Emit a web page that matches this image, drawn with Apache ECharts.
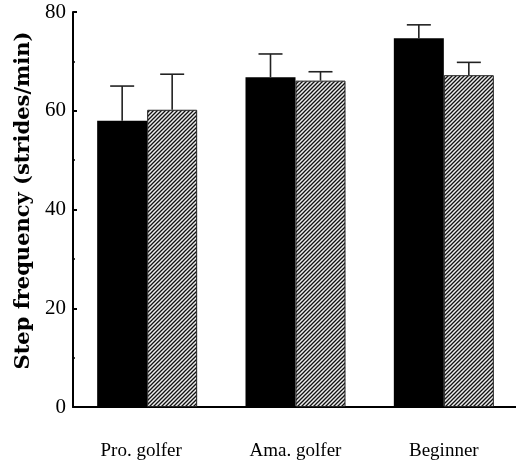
<!DOCTYPE html>
<html>
<head>
<meta charset="utf-8">
<script src="https://cdn.jsdelivr.net/npm/echarts@6/dist/echarts.min.js"></script>
<style>html,body{margin:0;padding:0;background:#fff;}#c{width:516px;height:464px;}</style>
</head>
<body>
<div id="c"></div>
<script>
const categories = ['Pro. golfer', 'Ama. golfer', 'Beginner'];
const solidValues = [58.0, 66.8, 74.7];
const solidErrTop = [65.0, 71.5, 77.4];
const hatchValues = [60.2, 66.1, 67.2];
const hatchErrTop = [67.4, 67.9, 69.8];
const yTicks = [0, 20, 40, 60, 80];

// hatch pattern
const pc = document.createElement('canvas');
pc.width = 4; pc.height = 4;
const g = pc.getContext('2d');
g.fillStyle = '#ececec'; g.fillRect(0, 0, 4, 4);
g.strokeStyle = '#111'; g.lineWidth = 1.3;
g.beginPath();
g.moveTo(-1, 5); g.lineTo(5, -1);
g.moveTo(-1, 1); g.lineTo(1, -1);
g.moveTo(3, 5); g.lineTo(5, 3);
g.stroke();

const chart = echarts.init(document.getElementById('c'), null, {renderer: 'canvas'});
const font = '"Liberation Serif", "DejaVu Serif", serif';

function errSeries(seriesIdx, vals, tops) {
  const data = vals.map((v, i) => [i, v, tops[i]]);
  return {
    type: 'custom',
    z: 5,
    data: data,
    renderItem: function (params, api) {
      const i = api.value(0);
      const base = api.coord([i, api.value(1)]);
      const top = api.coord([i, api.value(2)]);
      const off = seriesIdx === 0 ? -25 : 25;
      const x = base[0] + off;
      const cap = 12;
      const st = {stroke: '#222', lineWidth: 1.6};
      return {
        type: 'group',
        children: [
          {type: 'line', shape: {x1: x, y1: base[1], x2: x, y2: top[1]}, style: st},
          {type: 'line', shape: {x1: x - cap, y1: top[1], x2: x + cap, y2: top[1]}, style: st}
        ]
      };
    }
  };
}

chart.setOption({
  animation: false,
  grid: {left: 73, top: 12, width: 445, bottom: 57, outerBoundsMode: 'none', containLabel: false},
  xAxis: {
    type: 'category',
    data: categories,
    axisLine: {lineStyle: {color: '#000', width: 2}},
    axisTick: {show: false},
    axisLabel: {color: '#000', fontFamily: font, fontSize: 19, margin: 35,
      formatter: (v, i) => i === 0 ? '{p|' + v + '}' : v,
      rich: {p: {fontFamily: font, fontSize: 19, color: '#000', padding: [0, 12, 0, 0]}}}
  },
  yAxis: {
    type: 'value',
    min: 0, max: 80, interval: 20,
    name: 'Step frequency (strides/min)',
    nameLocation: 'middle',
    nameGap: 39,
    nameTextStyle: {color: '#000', fontFamily: '"DejaVu Serif", serif', fontSize: 21, fontWeight: 'bold', padding: [0, 0, 0, 18]},
    axisLine: {show: true, lineStyle: {color: '#000', width: 2}},
    axisTick: {show: true, inside: true, length: 4, lineStyle: {color: '#000', width: 2}},
    minorTick: {show: true, splitNumber: 2, length: 2, lineStyle: {color: '#000', width: 1.5}},
    splitLine: {show: false},
    axisLabel: {color: '#000', fontFamily: font, fontSize: 21, margin: 7,
      formatter: v => yTicks.includes(v) ? String(v) : ''}
  },
  series: [
    {
      type: 'bar', data: solidValues, barWidth: 50, barGap: '0%',
      itemStyle: {color: '#000'}
    },
    {
      type: 'bar', data: hatchValues, barWidth: 50, barGap: '0%',
      itemStyle: {color: {image: pc, repeat: 'repeat'}, borderColor: '#222', borderWidth: 1}
    },
    errSeries(0, solidValues, solidErrTop),
    errSeries(1, hatchValues, hatchErrTop)
  ]
});
</script>
</body>
</html>
